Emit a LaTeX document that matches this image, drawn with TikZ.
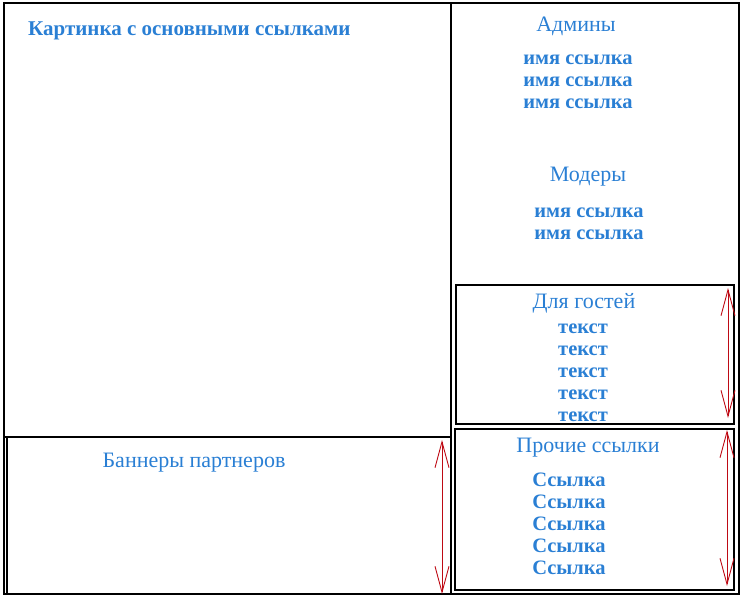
\documentclass[tikz,border=0pt]{standalone}
\usepackage{fontspec}
\setmainfont{Liberation Serif}
\usetikzlibrary{arrows.meta}
\definecolor{txtblue}{RGB}{42,127,212}
\definecolor{arrred}{RGB}{190,10,20}
\tikzset{
  frame/.style={draw=black,line width=1.1pt},
  thick frame/.style={draw=black,line width=2pt},
  head/.style={text=txtblue,font=\fontsize{22}{24}\selectfont,inner sep=0pt,anchor=center,yshift=-2.5pt},
  item/.style={text=txtblue,font=\fontsize{20.5}{22}\selectfont\bfseries,inner sep=0pt,anchor=center,yshift=-2.5pt},
  dblarrow/.style={draw=arrred,line width=0.9pt,{Straight Barb[length=26pt,width=14pt]}-{Straight Barb[length=26pt,width=14pt]}}
}
\begin{document}
\begin{tikzpicture}[x=1pt,y=-1pt]
\useasboundingbox (0,0) rectangle (742,598);
% frames
\draw[frame] (4,3) rectangle (739,594);
\draw[thick frame] (4,3) -- (451,3);
\draw[frame] (451,3) -- (451,594);
\draw[thick frame] (4,437) -- (451,437);
\draw[frame] (7,437) -- (7,594);
\draw[frame] (456,285) rectangle (734,424);
\draw[frame] (455,429) rectangle (734,590);
% texts
\node[head,font=\fontsize{21}{23}\selectfont\bfseries,anchor=west] (pic) at (28,28) {Картинка с основными ссылками};
\node[head] (adm) at (576,24) {Админы};
\node[item] (a1) at (578,57) {имя ссылка};
\node[item] (a2) at (578,79) {имя ссылка};
\node[item] (a3) at (578,101) {имя ссылка};
\node[head] (mod) at (588,174) {Модеры};
\node[item] (m1) at (589,210) {имя ссылка};
\node[item] (m2) at (589,232) {имя ссылка};
\node[head] (gst) at (584,301) {Для гостей};
\node[item] (g1) at (583,326) {текст};
\node[item] (g2) at (583,348) {текст};
\node[item] (g3) at (583,370) {текст};
\node[item] (g4) at (583,392) {текст};
\node[item] (g5) at (583,414) {текст};
\node[head] (oth) at (588,445) {Прочие ссылки};
\node[item] (o1) at (569,477) {Ссылка};
\node[item] (o2) at (569,499) {Ссылка};
\node[item] (o3) at (569,521) {Ссылка};
\node[item] (o4) at (569,543) {Ссылка};
\node[item] (o5) at (569,565) {Ссылка};
\node[head] (ban) at (194,460) {Баннеры партнеров};
% arrows
\coordinate (b1) at (442,440);
\coordinate (b2) at (442,594);
\coordinate (c1) at (728,288);
\coordinate (c2) at (728,418);
\coordinate (d1) at (727,430);
\coordinate (d2) at (727,586);
\draw[dblarrow] (b1) -- (b2);
\draw[dblarrow] (c1) -- (c2);
\draw[dblarrow] (d1) -- (d2);
\end{tikzpicture}
\end{document}
